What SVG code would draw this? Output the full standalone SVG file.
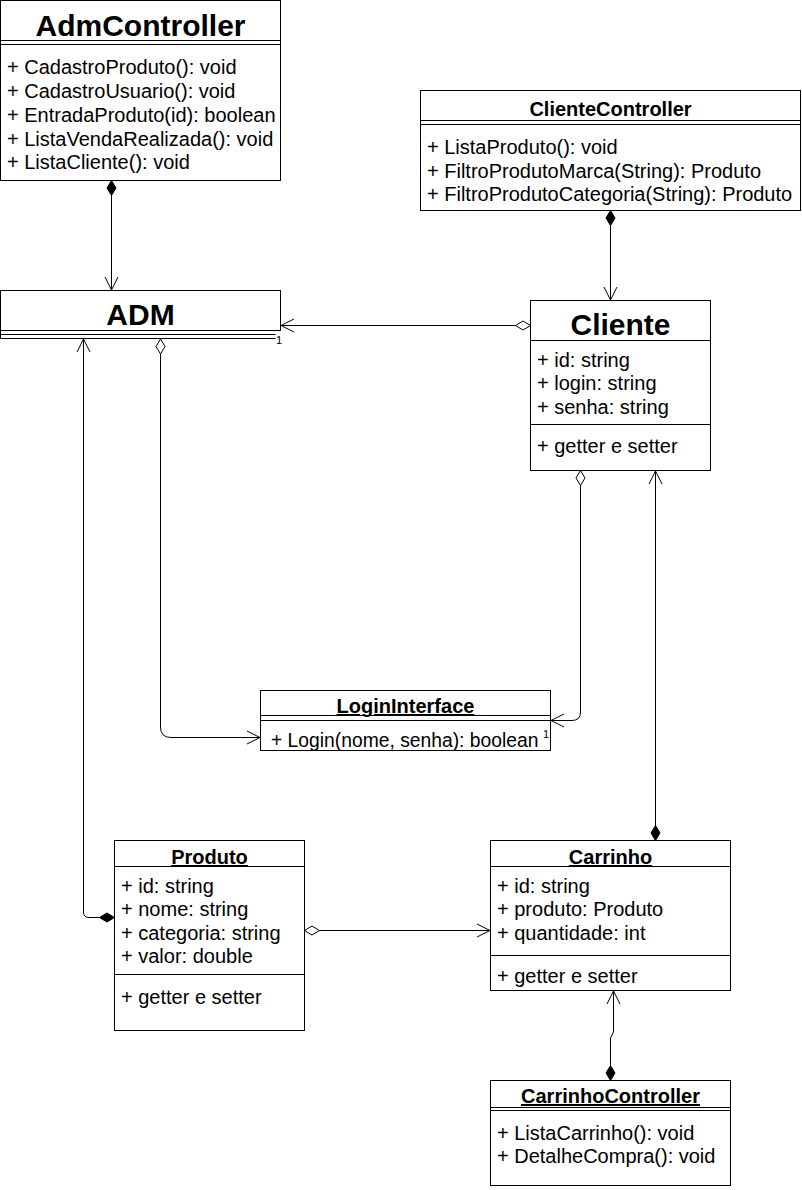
<svg xmlns="http://www.w3.org/2000/svg" width="802" height="1190" viewBox="0 0 802 1190">
<style>
.box{fill:#fff;stroke:#000;stroke-width:1}
.sep{stroke:#000;stroke-width:1;fill:none}
.big{font-family:"Liberation Sans",Arial,sans-serif;font-weight:bold;font-size:30px;text-anchor:middle;fill:#000}
.ttl{font-family:"Liberation Sans",Arial,sans-serif;font-weight:bold;font-size:20px;text-anchor:middle;fill:#000}
.u{text-decoration:underline}
.txt{font-family:"Liberation Sans",Arial,sans-serif;font-size:20px;fill:#000}
.lbl{font-family:"Liberation Sans",Arial,sans-serif;font-size:11px;fill:#000}
.edge{fill:none;stroke:#000;stroke-width:1}
.comp{marker-start:url(#fdia);marker-end:url(#arr)}
.agg{marker-start:url(#odia);marker-end:url(#arr)}
</style>
<defs>
<marker id="arr" markerUnits="userSpaceOnUse" markerWidth="14" markerHeight="14" refX="13" refY="6.5" orient="auto" overflow="visible">
<path d="M0,0 L13,6.5 L0,13" fill="none" stroke="#000" stroke-width="1"/>
</marker>
<marker id="fdia" markerUnits="userSpaceOnUse" markerWidth="16" markerHeight="10" refX="0" refY="4.5" orient="auto" overflow="visible">
<path d="M0,4.5 L7.5,0 L15,4.5 L7.5,9 Z" fill="#000" stroke="#000" stroke-width="1"/>
</marker>
<marker id="odia" markerUnits="userSpaceOnUse" markerWidth="16" markerHeight="10" refX="0" refY="4.5" orient="auto" overflow="visible">
<path d="M0,4.5 L7.5,0 L15,4.5 L7.5,9 Z" fill="#fff" stroke="#000" stroke-width="1"/>
</marker>
</defs>

<g id="connectors">
<path class="edge comp" d="M111.5 180.5 L111.5 290"/>
<path class="edge comp" d="M610.5 210.5 L610.5 300"/>
<path class="edge agg" d="M530.5 325.5 L281 325.5"/>
<path class="edge comp" d="M114.5 917.5 L89 917.5 Q83.5 917.5 83.5 912 L83.5 339"/>
<path class="edge agg" d="M160.5 339 L160.5 727 Q160.5 737.5 171 737.5 L260 737.5"/>
<path class="edge agg" d="M580.5 470.5 L580.5 712 Q580.5 720.5 572 720.5 L551 720.5"/>
<path class="edge comp" d="M655.5 840.5 L655.5 471"/>
<path class="edge agg" d="M304.5 930.5 L490 930.5"/>
<path class="edge comp" d="M610.5 1080.5 L610.5 1038 L613.5 1032 L613.5 991"/>
</g>

<g id="AdmController">
<rect class="box" x="0.5" y="0.5" width="280" height="180"/>
<path class="sep" d="M0.5 40.5 H280.5 M0.5 44.5 H280.5"/>
<text class="big" x="140.5" y="36">AdmController</text>
<text class="txt" x="7" y="74">+ CadastroProduto(): void</text>
<text class="txt" x="7" y="97.5">+ CadastroUsuario(): void</text>
<text class="txt" x="7" y="121.5">+ EntradaProduto(id): boolean</text>
<text class="txt" x="7" y="145.5">+ ListaVendaRealizada(): void</text>
<text class="txt" x="7" y="169">+ ListaCliente(): void</text>
</g>

<g id="ADM">
<rect class="box" x="0.5" y="290.5" width="280" height="40"/>
<path class="sep" d="M0.5 330.5 V338.5 M0.5 334.5 H275.5 M0.5 338.5 H275.5"/>
<text class="big" x="140.5" y="325">ADM</text>
</g>

<g id="ClienteController">
<rect class="box" x="420.5" y="90.5" width="380" height="120"/>
<path class="sep" d="M420.5 120.5 H800.5 M420.5 124.5 H800.5"/>
<text class="ttl" x="610.5" y="115.5">ClienteController</text>
<text class="txt" x="427" y="154">+ ListaProduto(): void</text>
<text class="txt" x="427" y="177.5">+ FiltroProdutoMarca(String): Produto</text>
<text class="txt" x="427" y="200.5">+ FiltroProdutoCategoria(String): Produto</text>
</g>

<g id="Cliente">
<rect class="box" x="530.5" y="300.5" width="180" height="170"/>
<path class="sep" d="M530.5 340.5 H710.5 M530.5 424.5 H710.5"/>
<text class="big" x="620.5" y="335">Cliente</text>
<text class="txt" x="537" y="366.5">+ id: string</text>
<text class="txt" x="537" y="390">+ login: string</text>
<text class="txt" x="537" y="414">+ senha: string</text>
<text class="txt" x="537" y="453">+ getter e setter</text>
</g>

<g id="LoginInterface">
<rect class="box" x="260.5" y="690.5" width="290" height="60"/>
<path class="sep" d="M260.5 715.5 H550.5 M260.5 720.5 H550.5"/>
<text class="ttl u" x="405.5" y="713">LoginInterface</text>
<text class="txt" x="271" y="747" style="font-size:19.3px">+ Login(nome, senha): boolean</text>
</g>

<g id="Produto">
<rect class="box" x="114.5" y="840.5" width="190" height="190"/>
<path class="sep" d="M114.5 866.5 H304.5 M114.5 974.5 H304.5"/>
<text class="ttl u" x="209.5" y="864">Produto</text>
<text class="txt" x="121" y="892.5">+ id: string</text>
<text class="txt" x="121" y="915.5">+ nome: string</text>
<text class="txt" x="121" y="939.5">+ categoria: string</text>
<text class="txt" x="121" y="963">+ valor: double</text>
<text class="txt" x="121" y="1003.5">+ getter e setter</text>
</g>

<g id="Carrinho">
<rect class="box" x="490.5" y="840.5" width="240" height="150"/>
<path class="sep" d="M490.5 866.5 H730.5 M490.5 955.5 H730.5"/>
<text class="ttl u" x="610.5" y="864">Carrinho</text>
<text class="txt" x="497" y="892.5">+ id: string</text>
<text class="txt" x="497" y="916">+ produto: Produto</text>
<text class="txt" x="497" y="939.5">+ quantidade: int</text>
<text class="txt" x="497" y="983">+ getter e setter</text>
</g>

<g id="CarrinhoController">
<rect class="box" x="490.5" y="1080.5" width="240" height="105"/>
<path class="sep" d="M490.5 1107.5 H730.5 M490.5 1110.5 H730.5"/>
<text class="ttl u" x="610.5" y="1103">CarrinhoController</text>
<text class="txt" x="497" y="1139.5">+ ListaCarrinho(): void</text>
<text class="txt" x="497" y="1163">+ DetalheCompra(): void</text>
</g>

<g id="connector-labels">
<text class="lbl" x="276" y="344">1</text>
<text class="lbl" x="543" y="738">1</text>
</g>
</svg>
